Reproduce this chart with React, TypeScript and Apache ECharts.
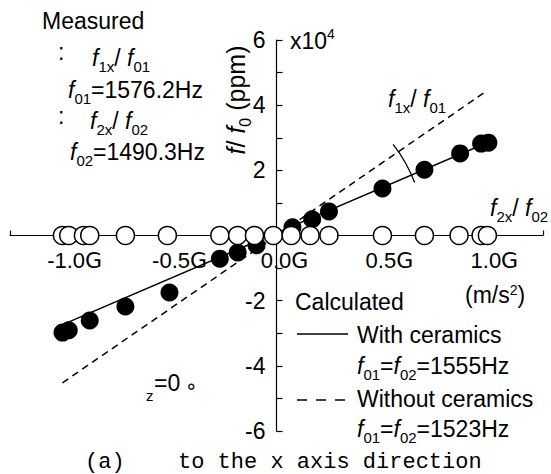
import React, { useEffect, useRef } from 'react';
import * as echarts from 'echarts';

// Measured f1x/f01 (filled circles): acceleration (G) and f/f0 (x10^4 ppm)
const filledX = [-1.02, -0.99, -0.89, -0.72, -0.51, -0.27, -0.185, -0.095, 0.076, 0.17, 0.25, 0.505, 0.705, 0.875, 0.975, 1.01];
const filledY = [-2.98, -2.91, -2.61, -2.18, -1.75, -0.71, -0.52, -0.3, 0.25, 0.5, 0.74, 1.44, 2.02, 2.52, 2.82, 2.85];
// Measured f2x/f02 (open circles)
const openX = [-1.02, -0.99, -0.92, -0.89, -0.72, -0.52, -0.27, -0.185, -0.105, -0.015, 0.07, 0.16, 0.25, 0.505, 0.705, 0.87, 0.975, 1.005];
const openY = [0, 0, 0, 0, 0, 0, 0, 0, 0, 0, 0, 0, 0, 0, 0, 0, 0, 0];
// Calculated lines
const withCerX = [-1.0, 1.0];
const withCerY = [-2.68, 2.84];
const withoutCerX = [-1.02, 1.0];
const withoutCerY = [-4.52, 4.43];
// Tick labels
const xTickValues = [-1, -0.5, 0, 0.5, 1];
const xTickLabels = ['-1.0', '-0.5', '0.0', '0.5', '1.0'];
const yTickValues = [-6, -4, -2, 2, 4, 6];
const yTickLabels = ['-6', '-4', '-2', '2', '4', '6'];

const FF = 'Liberation Sans';
const W = 551;
const H = 474;
const GRID = { left: 10, right: 8, top: 40, bottom: 43 };
const X_MIN = -1.27;
const X_MAX = 1.27;
const Y_MIN = -6;
const Y_MAX = 6;

function makeRich(size: number, sub: number, subPad: number) {
  return {
    n: { fontFamily: FF, fontSize: size, lineHeight: size + 1, verticalAlign: 'top', fill: '#000' },
    i: { fontFamily: FF, fontSize: size, fontStyle: 'italic', lineHeight: size + 1, verticalAlign: 'top', fill: '#000' },
    s: { fontFamily: FF, fontSize: sub, lineHeight: sub - 1, verticalAlign: 'top', padding: [subPad, 0, 0, 0], fill: '#000' },
    N: { fontFamily: FF, fontSize: size, lineHeight: size + 1, verticalAlign: 'top', padding: [3, 0, 0, 0], fill: '#000' },
    p: { fontFamily: FF, fontSize: 14, lineHeight: 14, verticalAlign: 'top', padding: [0, 0, 0, 0], fill: '#000' },
    q: { fontFamily: FF, fontSize: 14, lineHeight: 14, verticalAlign: 'top', padding: [2, 0, 0, 0], fill: '#000' },
  };
}
const rich23 = makeRich(23, 15, 13);

function richText(x: number, y: number, text: string, rich: any = rich23) {
  return {
    type: 'text',
    x,
    y,
    style: { text, rich, fontFamily: FF, fontSize: 23, fill: '#000', align: 'left', verticalAlign: 'middle' },
  };
}
function plainText(x: number, y: number, text: string, size = 23, family = FF) {
  return {
    type: 'text',
    x,
    y,
    style: { text, fontFamily: family, fontSize: size, fill: '#000', align: 'left', verticalAlign: 'middle' },
  };
}

export default function App() {
  const ref = useRef<HTMLDivElement>(null);
  useEffect(() => {
    if (!ref.current) return;
    const chart = echarts.init(ref.current, null, { renderer: 'svg' });
    const gw = W - GRID.left - GRID.right;
    const gh = H - GRID.top - GRID.bottom;
    // axes cross at zero: shift them from the grid edges to the zero lines
    const xOffset = -gh * (0 - Y_MIN) / (Y_MAX - Y_MIN);
    const yOffset = -gw * (0 - X_MIN) / (X_MAX - X_MIN);
    chart.setOption({
      animation: false,
      backgroundColor: '#fff',
      grid: { ...GRID, containLabel: false, outerBoundsMode: 'none' },
      xAxis: {
        type: 'value',
        min: X_MIN,
        max: X_MAX,
        position: 'bottom',
        offset: xOffset,
        splitLine: { show: false },
        axisLine: { onZero: false, lineStyle: { color: '#000', width: 1.2 } },
        axisTick: { show: true, inside: true, length: 5, customValues: [X_MIN, X_MAX], lineStyle: { color: '#000', width: 1.2 } },
        axisLabel: {
          customValues: xTickValues,
          margin: 14,
          padding: [0, 0, 0, 16],
          formatter: (v: number) => {
            const idx = xTickValues.findIndex((t) => Math.abs(t - v) < 1e-6);
            return idx >= 0 ? `{n|${xTickLabels[idx]}}{g|G}` : '';
          },
          rich: {
            n: { fontFamily: FF, fontSize: 22, color: '#000' },
            g: { fontFamily: 'DejaVu Sans', fontSize: 22, color: '#000' },
          },
        },
      },
      yAxis: {
        type: 'value',
        min: Y_MIN,
        max: Y_MAX,
        interval: 1,
        position: 'left',
        offset: yOffset,
        splitLine: { show: false },
        axisLine: { onZero: false, lineStyle: { color: '#000', width: 1.2 } },
        axisTick: { show: true, inside: true, length: 6, lineStyle: { color: '#000', width: 1.2 } },
        axisLabel: {
          margin: 11,
          fontFamily: FF,
          fontSize: 23,
          color: '#000',
          formatter: (v: number) => {
            const idx = yTickValues.indexOf(v);
            return idx >= 0 ? yTickLabels[idx] : '';
          },
        },
      },
      series: [
        {
          type: 'line',
          data: withCerX.map((x, i) => [x, withCerY[i]]),
          symbol: 'none',
          lineStyle: { color: '#000', width: 1.5 },
          z: 2,
        },
        {
          type: 'line',
          data: withoutCerX.map((x, i) => [x, withoutCerY[i]]),
          symbol: 'none',
          lineStyle: { color: '#000', width: 1.5, type: [7, 5] },
          z: 2,
        },
        {
          type: 'scatter',
          data: filledX.map((x, i) => [x, filledY[i]]),
          symbol: 'circle',
          symbolSize: 18,
          itemStyle: { color: '#000', opacity: 1 },
          z: 3,
        },
        {
          type: 'scatter',
          data: openX.map((x, i) => [x, openY[i]]),
          symbol: 'circle',
          symbolSize: 18,
          itemStyle: { color: '#fff', borderColor: '#000', borderWidth: 1.5, opacity: 1 },
          z: 4,
        },
      ],
    });

    const o = chart.convertToPixel({ gridIndex: 0 }, [0, 0]) as number[];
    const richY = makeRich(25, 16, 14);
    const graphic: any[] = [
      plainText(42, 21, 'Measured'),
      plainText(58, 52, ':'),
      richText(92, 58, '{i|f}{s|1x}{n|/ }{i|f}{s|01}'),
      richText(68, 90, '{i|f}{s|01}{n|=1576.2Hz}'),
      plainText(58, 116, ':'),
      richText(90, 121, '{i|f}{s|2x}{n|/ }{i|f}{s|02}'),
      richText(70, 152, '{i|f}{s|02}{n|=1490.3Hz}'),
      richText(388, 99, '{i|f}{s|1x}{n|/ }{i|f}{s|01}'),
      richText(490, 208, '{i|f}{s|2x}{n|/ }{i|f}{s|02}'),
      richText(465, 292.5, '{N|(m/s}{q|2}{N|)}'),
      richText(290, 38.5, '{N|x10}{p|4}'),
      plainText(295, 302, 'Calculated'),
      {
        type: 'line',
        shape: { x1: 297, y1: 334, x2: 348, y2: 334 },
        style: { stroke: '#000', lineWidth: 1.5 },
      },
      plainText(357, 335, 'With ceramics'),
      richText(357, 366, '{i|f}{s|01}{n|=}{i|f}{s|02}{n|=1555Hz}'),
      {
        type: 'line',
        shape: { x1: 297, y1: 400, x2: 346, y2: 400 },
        style: { stroke: '#000', lineWidth: 1.5, lineDash: [10, 9] },
      },
      plainText(357, 399, 'Without ceramics'),
      richText(357, 429, '{i|f}{s|01}{n|=}{i|f}{s|02}{n|=1523Hz}'),
      plainText(146, 395, 'z', 15),
      plainText(154, 383, '=0', 23),
      plainText(185, 386, '\u2218', 20, 'DejaVu Sans'),
      plainText(85, 462, '(a)', 22, 'Liberation Mono'),
      plainText(178, 462, 'to the x axis direction', 22, 'Liberation Mono'),
      {
        type: 'text',
        x: 236,
        y: 100,
        rotation: Math.PI / 2,
        style: {
          text: '{i|f}{n|/ }{i|f}{s|0}{n| (ppm)}',
          rich: richY,
          fontFamily: FF,
          fontSize: 25,
          fill: '#000',
          align: 'center',
          verticalAlign: 'middle',
        },
      },
      {
        type: 'arc',
        shape: {
          cx: o[0],
          cy: o[1],
          r: 148,
          startAngle: (-38 * Math.PI) / 180,
          endAngle: (-21 * Math.PI) / 180,
          clockwise: true,
        },
        style: { stroke: '#000', lineWidth: 1.3, fill: 'none' },
        z: 10,
      },
    ];
    chart.setOption({ graphic });

    return () => chart.dispose();
  }, []);
  return (
    <div
      ref={ref}
      style={{ position: 'fixed', left: 0, top: 0, width: W, height: H, background: '#fff' }}
    />
  );
}
